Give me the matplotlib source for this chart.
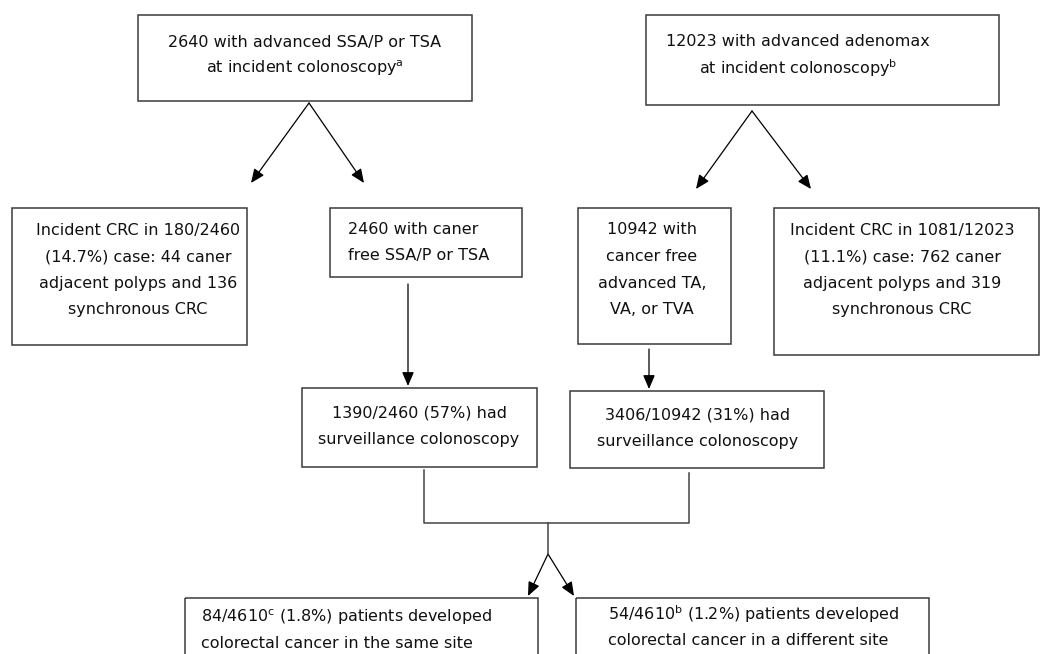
import matplotlib
matplotlib.use("Agg")
import matplotlib.pyplot as plt
from matplotlib.patches import Rectangle, FancyArrowPatch

plt.rcParams['font.family'] = ['DejaVu Sans']
plt.rcParams['mathtext.default'] = 'regular'

# box texts
top_left = ["2640 with advanced SSA/P or TSA", "at incident colonoscopy$^{a}$"]
top_right = ["12023 with advanced adenomax", "at incident colonoscopy$^{b}$"]
crc_left = ["Incident CRC in 180/2460", "(14.7%) case: 44 caner",
            "adjacent polyps and 136", "synchronous CRC"]
free_left = ["2460 with caner", "free SSA/P or TSA"]
free_right = ["10942 with", "cancer free", "advanced TA,", "VA, or TVA"]
crc_right = ["Incident CRC in 1081/12023", "(11.1%) case: 762 caner",
             "adjacent polyps and 319", "synchronous CRC"]
surv_left = ["1390/2460 (57%) had", "surveillance colonoscopy"]
surv_right = ["3406/10942 (31%) had", "surveillance colonoscopy"]
out_same = ["84/4610$^{c}$ (1.8%) patients developed", "colorectal cancer in the same site"]
out_diff = ["54/4610$^{b}$ (1.2%) patients developed", "colorectal cancer in a different site"]

fig = plt.figure(figsize=(10.4, 6.54), dpi=100)
ax = fig.add_axes([0, 0, 1, 1])
ax.set_xlim(0, 1040)
ax.set_ylim(654, 0)
ax.axis('off')

EDGE = '#3a3a3a'
FS = 11.5
LH = 26.6


def box(x0, y0, x1, y1, lines, tx, ty, ha='center'):
    ax.add_patch(Rectangle((x0, y0), x1 - x0, y1 - y0, fill=False,
                           edgecolor=EDGE, linewidth=1.1))
    for i, s in enumerate(lines):
        ax.text(tx, ty + i * LH, s, ha=ha, va='center', fontsize=FS, color='#111111')


def arrow(p0, p1):
    ax.add_patch(FancyArrowPatch(p0, p1, arrowstyle='-|>,head_length=0.7,head_width=0.3',
                                 mutation_scale=12, color='black', linewidth=0.9,
                                 shrinkA=0, shrinkB=0))


box(138, 15, 472, 101, top_left, 305, 42)
box(646, 15, 999, 105, top_right, 798, 42)
box(12, 208, 247, 345, crc_left, 138, 230)
box(330, 208, 522, 277, free_left, 348, 229, ha='left')
box(578, 208, 731, 344, free_right, 652, 230)
box(774, 208, 1039, 355, crc_right, 902, 230)
box(302, 388, 537, 467, surv_left, 419, 413)
box(570, 391, 824, 468, surv_right, 698, 415)
box(185, 598, 538, 680, out_same, 201, 617, ha='left')
box(576, 598, 929, 680, out_diff, 608, 614, ha='left')

# split arrows from top boxes
arrow((309, 103), (251, 183))
arrow((309, 103), (364, 183))
arrow((752, 111), (696, 189))
arrow((752, 111), (811, 189))

# down arrows
arrow((408, 284), (408, 386))
arrow((649, 349), (649, 389))

# bracket joining the surveillance boxes
ax.plot([424, 424, 689, 689], [470, 523, 523, 473], color='#444444', linewidth=1.1)
ax.plot([548, 548], [523, 554], color='#444444', linewidth=1.1)
arrow((548, 554), (528, 596))
arrow((548, 554), (574, 596))

fig.savefig('out.png', dpi=100)
